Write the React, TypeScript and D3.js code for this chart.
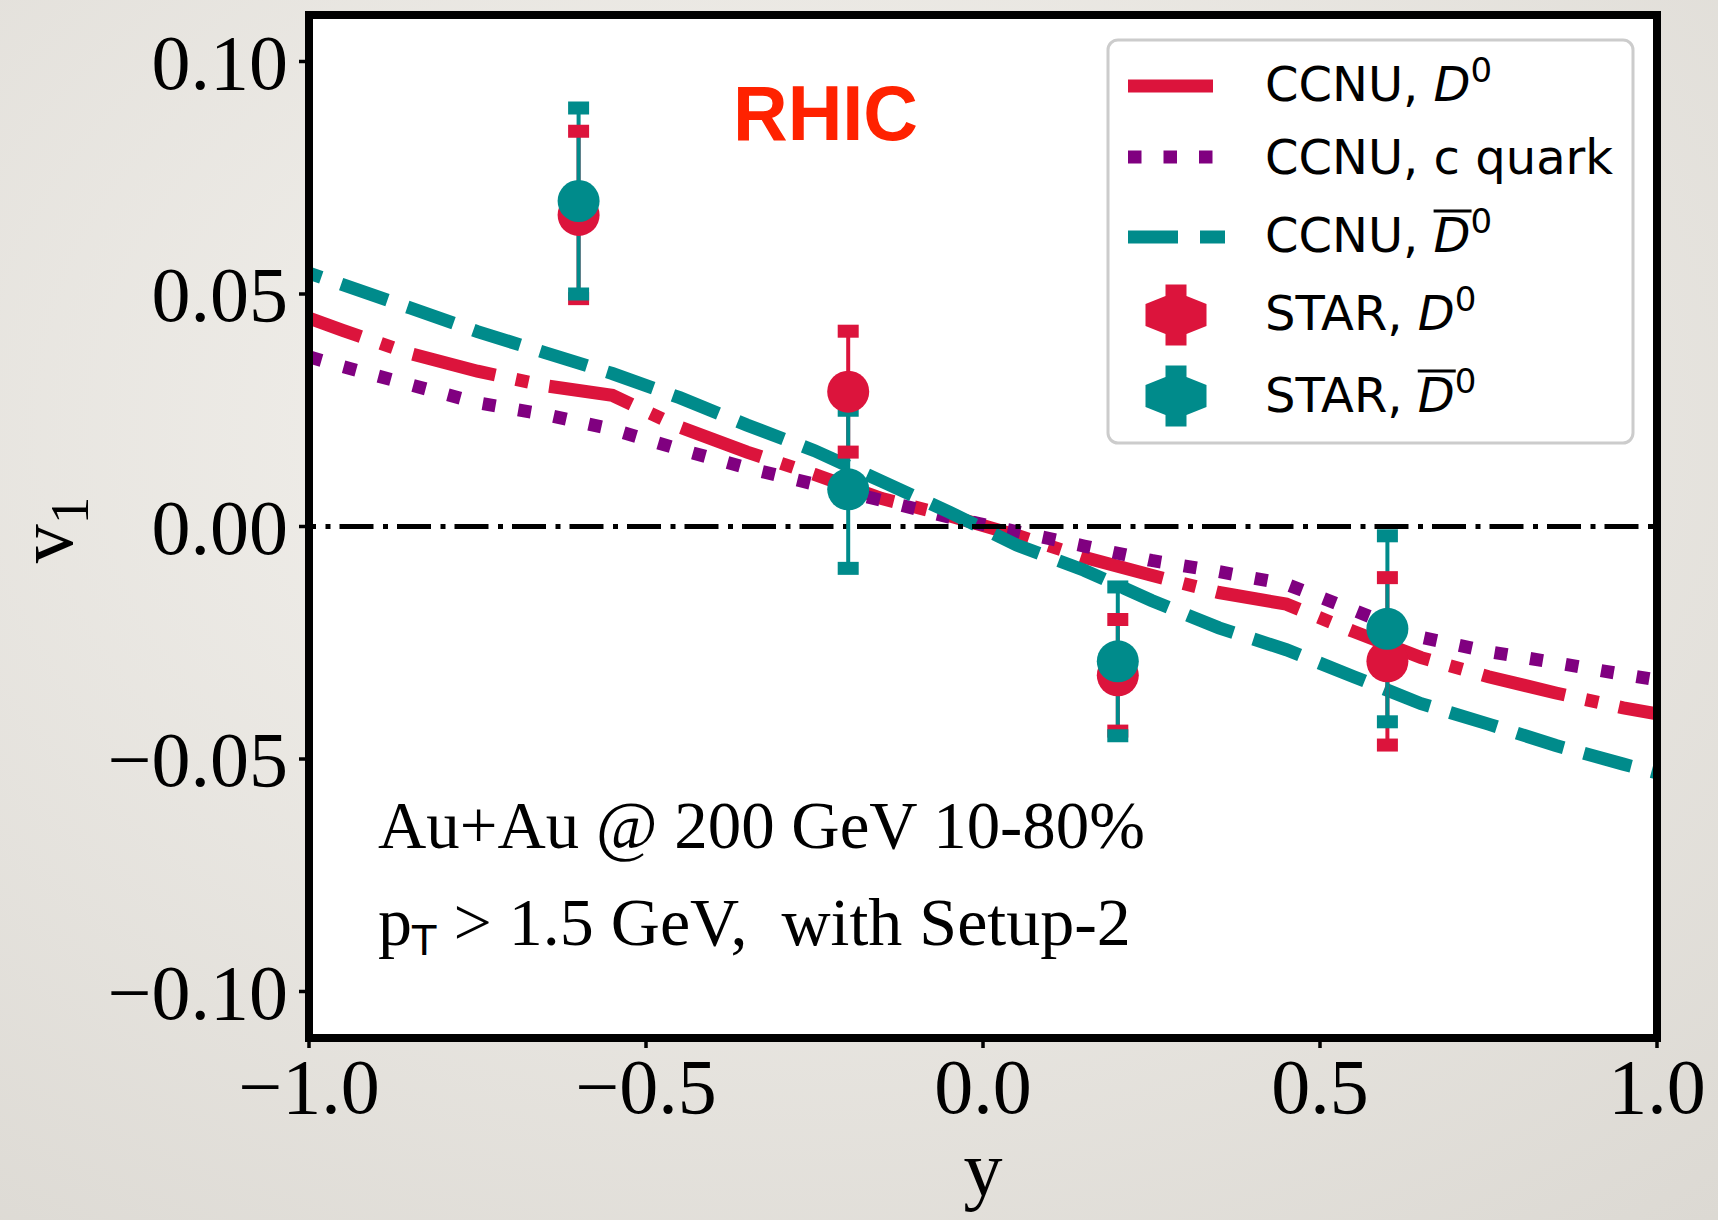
import { useEffect, useRef } from "react"
import * as d3 from "d3"

// rapidity grid of the CCNU model curves
const modelY = [-1.0, -0.95, -0.85, -0.75, -0.65, -0.55, -0.45, -0.35, -0.25, -0.15, -0.05, 0.05, 0.15, 0.25, 0.35, 0.45, 0.55, 0.65, 0.75, 0.85, 0.95, 1.0]
const ccnuD0 = [0.0448, 0.0422, 0.0372, 0.0334, 0.0303, 0.0282, 0.0214, 0.0160, 0.0112, 0.0060, 0.0023, -0.0019, -0.0066, -0.0105, -0.0142, -0.0167, -0.0226, -0.0282, -0.0323, -0.0358, -0.0390, -0.0403]
const ccnuCQuark = [0.0365, 0.0344, 0.0305, 0.0266, 0.0241, 0.0209, 0.0166, 0.0126, 0.0091, 0.0056, 0.0020, -0.0011, -0.0042, -0.0073, -0.0097, -0.0124, -0.0180, -0.0238, -0.0269, -0.0293, -0.0318, -0.0330]
const ccnuD0bar = [0.0545, 0.0520, 0.0470, 0.0419, 0.0374, 0.0329, 0.0277, 0.0218, 0.0163, 0.0097, 0.0031, -0.0040, -0.0094, -0.0159, -0.0218, -0.0265, -0.0323, -0.0381, -0.0425, -0.0471, -0.0511, -0.0530]

// STAR measurements
const starY = [-0.6, -0.2, 0.2, 0.6]
const starD0 = [0.067, 0.029, -0.032, -0.029]
const starD0Err = [0.018, 0.013, 0.012, 0.018]
const starD0bar = [0.070, 0.008, -0.029, -0.022]
const starD0barErr = [0.020, 0.017, 0.016, 0.020]

const xTicks = [-1.0, -0.5, 0.0, 0.5, 1.0]
const yTicks = [-0.1, -0.05, 0.0, 0.05, 0.1]

const RED = "#DC143C"
const PURPLE = "#800080"
const TEAL = "#008B8B"

const WIDTH = 1718
const HEIGHT = 1220
const SERIF = "'Liberation Serif', 'Times New Roman', serif"
const SANS = "'DejaVu Sans', sans-serif"

const App = () => {
    const ref = useRef<SVGSVGElement>(null)

    useEffect(() => {
        const svg = d3.select(ref.current)
        svg.selectAll("*").remove()

        const x = d3.scaleLinear().domain([-1, 1]).range([309, 1657])
        const y = d3.scaleLinear().domain([-0.11, 0.11]).range([1038, 15])
        const [x0, x1] = x.range()
        const [yb, yt] = y.range()

        const defs = svg.append("defs")
        const paper = defs.append("radialGradient")
            .attr("id", "paper").attr("cx", "45%").attr("cy", "35%").attr("r", "85%")
        paper.append("stop").attr("offset", "0%").attr("stop-color", "#f5f3ef")
        paper.append("stop").attr("offset", "100%").attr("stop-color", "#dcd9d3")
        defs.append("clipPath").attr("id", "plot-clip")
            .append("rect").attr("x", x0).attr("y", yt).attr("width", x1 - x0).attr("height", yb - yt)

        svg.append("rect").attr("width", WIDTH).attr("height", HEIGHT).attr("fill", "url(#paper)")
        svg.append("rect")
            .attr("x", x0).attr("y", yt).attr("width", x1 - x0).attr("height", yb - yt)
            .attr("fill", "white")

        const plot = svg.append("g").attr("clip-path", "url(#plot-clip)")

        // model curves
        const curves = [
            { values: ccnuD0, color: RED, dash: "85,21,13,21", offset: 30 },
            { values: ccnuCQuark, color: PURPLE, dash: "13,23", offset: 0 },
            { values: ccnuD0bar, color: TEAL, dash: "49,21", offset: 36 },
        ]
        const line = d3.line<number>()
            .x((d, i) => x(modelY[i]))
            .y(d => y(d))
        curves.forEach(c => {
            plot.append("path")
                .attr("d", line(c.values))
                .attr("fill", "none")
                .attr("stroke", c.color)
                .attr("stroke-width", 13)
                .attr("stroke-dasharray", c.dash)
                .attr("stroke-dashoffset", c.offset)
        })

        plot.append("line")
            .attr("x1", x0).attr("x2", x1)
            .attr("y1", y(0)).attr("y2", y(0))
            .attr("stroke", "black")
            .attr("stroke-width", 5)
            .attr("stroke-dasharray", "34,9.5,5,9")
            .attr("stroke-dashoffset", 27)

        // STAR points with error bars
        const star = [
            { values: starD0, errs: starD0Err, color: RED },
            { values: starD0bar, errs: starD0barErr, color: TEAL },
        ]
        const pts = svg.append("g")
        star.forEach(s => {
            starY.forEach((yy, i) => {
                pts.append("line")
                    .attr("x1", x(yy)).attr("x2", x(yy))
                    .attr("y1", y(s.values[i] - s.errs[i]))
                    .attr("y2", y(s.values[i] + s.errs[i]))
                    .attr("stroke", s.color).attr("stroke-width", 4)
            })
        })
        star.forEach(s => {
            starY.forEach((yy, i) => {
                [s.values[i] - s.errs[i], s.values[i] + s.errs[i]].forEach(v => {
                    pts.append("rect")
                        .attr("x", x(yy) - 10.5).attr("y", y(v) - 6.5)
                        .attr("width", 21).attr("height", 13)
                        .attr("fill", s.color)
                })
            })
        })
        star.forEach(s => {
            pts.selectAll(null)
                .data(starY)
                .enter()
                .append("circle")
                .attr("cx", d => x(d))
                .attr("cy", (d, i) => y(s.values[i]))
                .attr("r", 21)
                .attr("fill", s.color)
        })

        // RHIC label and annotations
        svg.append("text")
            .attr("x", 733).attr("y", 140)
            .attr("font-family", "'Liberation Sans', Arial, sans-serif")
            .attr("font-weight", "bold")
            .attr("font-size", 78)
            .attr("textLength", 185)
            .attr("lengthAdjust", "spacingAndGlyphs")
            .attr("fill", "#FF2200")
            .text("RHIC")

        svg.append("text")
            .attr("x", 378).attr("y", 848)
            .attr("font-family", SERIF).attr("font-size", 68)
            .attr("textLength", 767)
            .attr("lengthAdjust", "spacingAndGlyphs")
            .text("Au+Au @ 200 GeV 10-80%")

        const note = svg.append("text")
            .attr("x", 378).attr("y", 945)
            .attr("font-family", SERIF).attr("font-size", 68)
            .style("white-space", "pre")
        note.append("tspan").text("p")
        note.append("tspan").attr("font-family", SANS).attr("font-size", 40).attr("dy", 10).text("T")
        note.append("tspan").attr("dy", -10).text(" > 1.5 GeV,  with Setup-2")

        // legend
        const legend = svg.append("g")
        legend.append("rect")
            .attr("x", 1108).attr("y", 40).attr("width", 525).attr("height", 403)
            .attr("rx", 10)
            .attr("fill", "white").attr("fill-opacity", 0.8)
            .attr("stroke", "#cccccc").attr("stroke-width", 3)

        const legendLines = [
            { y: 86, color: RED, dash: "85,21,13,21", end: 1214 },
            { y: 157, color: PURPLE, dash: "13.5,22", end: 1214 },
            { y: 237, color: TEAL, dash: "50,22", end: 1225 },
        ]
        legendLines.forEach(l => {
            legend.append("line")
                .attr("x1", 1128).attr("x2", l.end)
                .attr("y1", l.y).attr("y2", l.y)
                .attr("stroke", l.color).attr("stroke-width", 13)
                .attr("stroke-dasharray", l.dash)
        })

        const glyph: [number, number][] = [
            [-10.5, -30.5], [10.5, -30.5], [10.5, -19], [30.5, -11], [30.5, 11], [10.5, 19],
            [10.5, 30.5], [-10.5, 30.5], [-10.5, 19], [-30.5, 11], [-30.5, -11], [-10.5, -19],
        ]
        const legendMarkers = [
            { y: 315, color: RED },
            { y: 396, color: TEAL },
        ]
        legendMarkers.forEach(m => {
            legend.append("path")
                .attr("d", d3.line()(glyph) + "Z")
                .attr("transform", `translate(1176, ${m.y})`)
                .attr("fill", m.color)
        })

        const legendEntries = [
            { base: 101, prefix: "CCNU, ", meson: true, bar: false },
            { base: 174, prefix: "CCNU, c quark", meson: false, bar: false },
            { base: 252, prefix: "CCNU, ", meson: true, bar: true },
            { base: 330, prefix: "STAR, ", meson: true, bar: false },
            { base: 412, prefix: "STAR, ", meson: true, bar: true },
        ]
        legendEntries.forEach(e => {
            const t = legend.append("text")
                .attr("x", 1265).attr("y", e.base)
                .attr("font-family", SANS).attr("font-size", 48)
                .style("white-space", "pre")
            t.append("tspan").text(e.prefix)
            if (e.meson) {
                t.append("tspan").attr("font-style", "italic").text("D")
                t.append("tspan").attr("font-size", 34).attr("dx", 0).attr("dy", -19).text("0")
                if (e.bar) {
                    const box = (t.node() as SVGTextElement).getExtentOfChar(e.prefix.length)
                    legend.append("line")
                        .attr("x1", box.x).attr("x2", box.x + box.width + 1)
                        .attr("y1", e.base - 41).attr("y2", e.base - 41)
                        .attr("stroke", "black").attr("stroke-width", 3)
                }
            }
        })

        // frame
        svg.append("rect")
            .attr("x", x0).attr("y", yt).attr("width", x1 - x0).attr("height", yb - yt)
            .attr("fill", "none").attr("stroke", "black").attr("stroke-width", 8)

        // y axis
        const yAxis = svg.append("g")
        yTicks.forEach(t => {
            yAxis.append("line")
                .attr("x1", x0 - 10).attr("x2", x0)
                .attr("y1", y(t)).attr("y2", y(t))
                .attr("stroke", "black").attr("stroke-width", 3.5)
            yAxis.append("text")
                .attr("x", 288).attr("y", y(t) + 27)
                .attr("text-anchor", "end")
                .attr("font-family", SERIF).attr("font-size", 78)
                .text(d3.format(".2f")(t))
        })

        // x axis
        const xAxis = svg.append("g")
        xTicks.forEach(t => {
            xAxis.append("line")
                .attr("x1", x(t)).attr("x2", x(t))
                .attr("y1", yb).attr("y2", yb + 10)
                .attr("stroke", "black").attr("stroke-width", 3.5)
            xAxis.append("text")
                .attr("x", x(t)).attr("y", 1113)
                .attr("text-anchor", "middle")
                .attr("font-family", SERIF).attr("font-size", 78)
                .text(d3.format(".1f")(t))
        })

        svg.append("text")
            .attr("x", x(0)).attr("y", 1195)
            .attr("text-anchor", "middle")
            .attr("font-family", SERIF).attr("font-size", 78)
            .text("y")

        const yLabel = svg.append("text")
            .attr("transform", "translate(72, 530) rotate(-90)")
            .attr("text-anchor", "middle")
            .attr("font-family", SERIF).attr("font-size", 78)
        yLabel.append("tspan").text("v")
        yLabel.append("tspan").attr("font-size", 55).attr("dy", 16).text("1")
    })

    return (
        <svg ref={ref} width={WIDTH} height={HEIGHT} style={{ position: "absolute", left: 0, top: 0 }} />
    )
}

export default App
